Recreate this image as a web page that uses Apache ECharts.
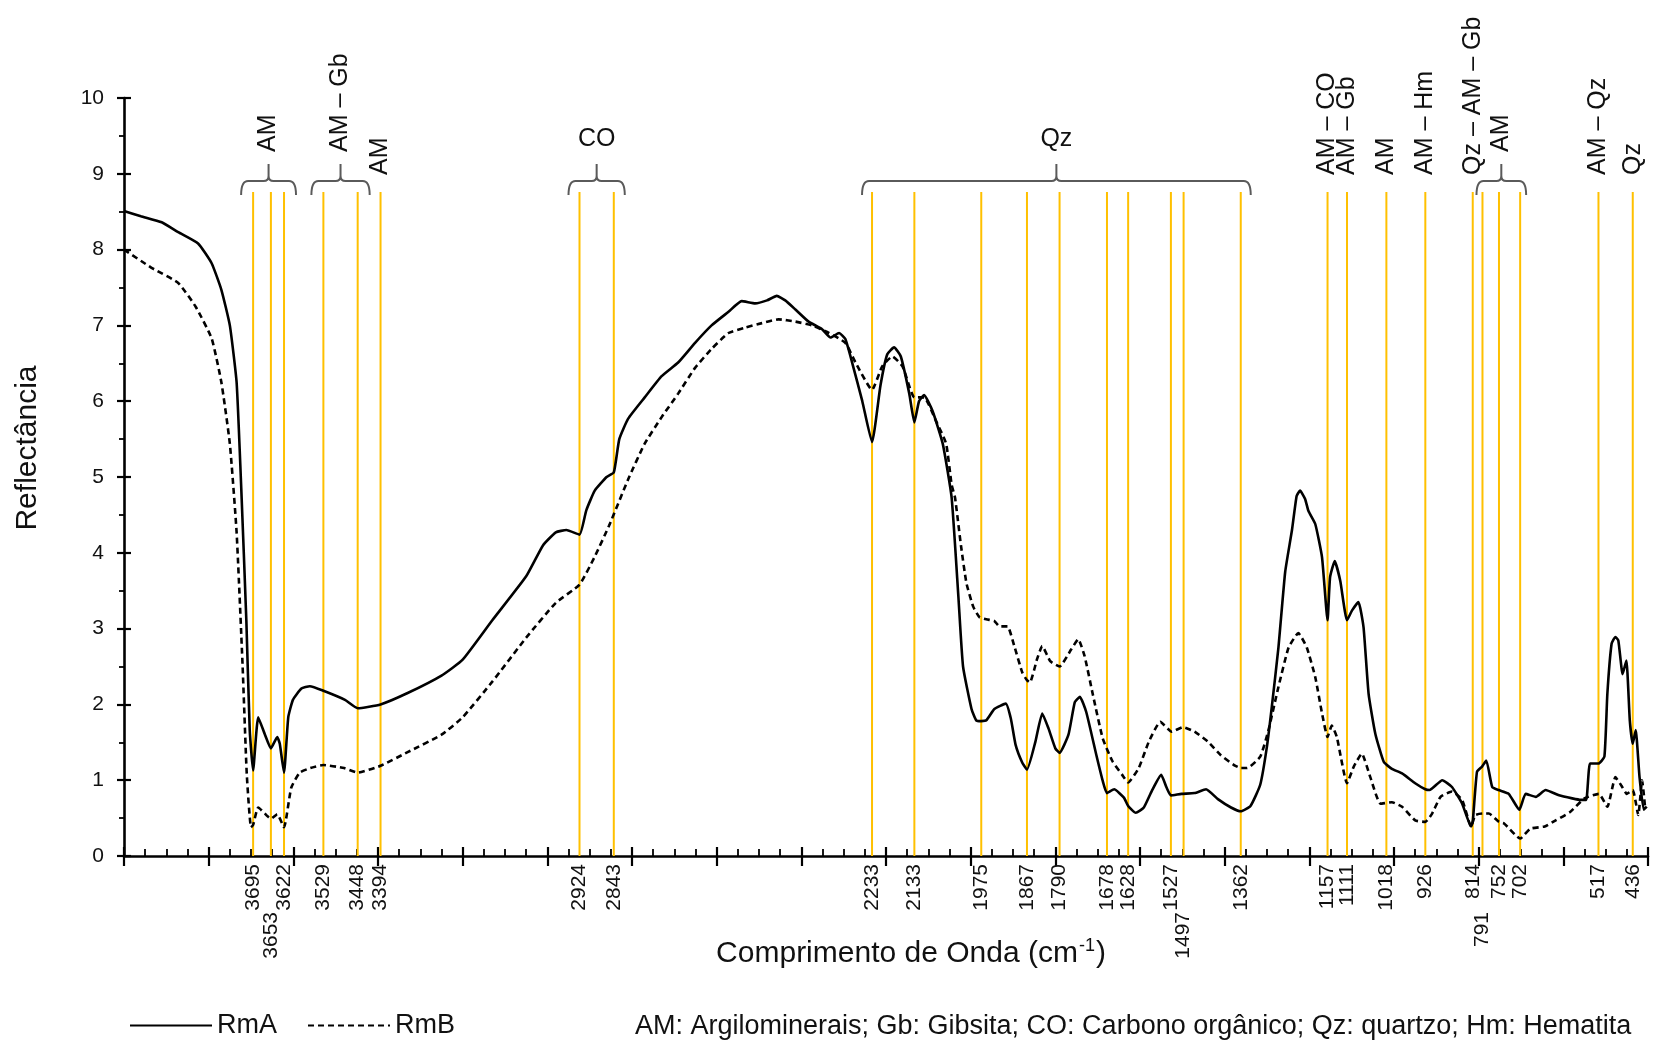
<!DOCTYPE html>
<html>
<head>
<meta charset="utf-8">
<script src="https://cdn.jsdelivr.net/npm/echarts@6/dist/echarts.min.js"></script>
<style>
  html, body { margin: 0; padding: 0; background: #ffffff; }
  #chart { width: 1656px; height: 1042px; }
</style>
</head>
<body>
<div id="chart"></div>
<script>
// FTIR reflectance spectra of samples RmA and RmB (wavenumber in cm-1)
const rmaWavenumber = [4000,3960,3911,3872,3825,3793,3770,3750,3734,3723,3711,3703,3695,3683,3667,3653,3638,3632,3622,3612,3601,3581,3561,3529,3478,3448,3394,3330,3250,3200,3130,3050,3010,2980,2955,2924,2908,2888,2860,2843,2830,2809,2770,2730,2691,2651,2612,2572,2541,2509,2481,2458,2438,2414,2383,2351,2331,2311,2296,2280,2256,2233,2213,2197,2181,2165,2145,2133,2122,2110,2090,2066,2045,2029,2018,1998,1987,1975,1963,1944,1917,1905,1894,1878,1867,1847,1831,1816,1800,1790,1769,1754,1742,1727,1703,1688,1678,1661,1638,1628,1610,1591,1572,1550,1537,1527,1502,1471,1444,1416,1385,1362,1339,1316,1300,1289,1273,1257,1241,1230,1222,1210,1202,1186,1170,1157,1151,1140,1127,1111,1099,1084,1072,1060,1044,1024,1005,981,950,926,916,886,863,839,818,814,804,792,782,768,753,729,704,689,665,642,610,579,559,546,537,517,503,496,486,477,470,460,451,443,436,429,420,410,403];
const rmaReflectance = [8.51,8.44,8.36,8.23,8.08,7.82,7.47,7.00,6.25,4.85,3.11,1.66,1.13,1.83,1.60,1.42,1.57,1.48,1.10,1.83,2.06,2.21,2.24,2.18,2.06,1.95,2.00,2.15,2.38,2.59,3.11,3.69,4.10,4.27,4.30,4.24,4.56,4.82,5.00,5.06,5.50,5.77,6.05,6.33,6.51,6.77,7.00,7.18,7.32,7.29,7.33,7.39,7.33,7.21,7.05,6.95,6.84,6.90,6.82,6.51,6.00,5.46,6.21,6.62,6.71,6.59,6.10,5.72,6.00,6.08,5.87,5.44,4.73,3.42,2.50,1.94,1.79,1.78,1.79,1.94,2.01,1.81,1.47,1.23,1.14,1.51,1.88,1.68,1.42,1.36,1.60,2.03,2.10,1.90,1.33,0.99,0.83,0.88,0.77,0.66,0.57,0.64,0.86,1.07,0.90,0.80,0.82,0.83,0.88,0.75,0.64,0.59,0.66,0.94,1.45,1.95,2.75,3.75,4.30,4.75,4.82,4.71,4.55,4.38,3.94,3.11,3.68,3.89,3.63,3.11,3.24,3.35,3.02,2.14,1.61,1.24,1.15,1.09,0.96,0.88,0.87,1.00,0.91,0.69,0.39,0.45,1.11,1.18,1.26,0.91,0.87,0.82,0.61,0.82,0.78,0.87,0.80,0.76,0.74,0.74,1.22,1.22,1.31,2.14,2.80,2.89,2.84,2.40,2.58,1.79,1.48,1.66,1.04,0.61,0.65];

const rmbWavenumber = [4000,3935,3872,3830,3793,3770,3750,3734,3720,3710,3700,3695,3683,3660,3653,3638,3622,3605,3585,3560,3529,3480,3448,3394,3330,3250,3200,3130,3050,2980,2924,2888,2854,2809,2770,2730,2691,2651,2612,2572,2533,2493,2454,2414,2375,2335,2296,2272,2233,2209,2185,2161,2133,2110,2082,2058,2045,2037,2023,2010,1994,1979,1960,1944,1932,1913,1897,1878,1867,1860,1843,1831,1812,1790,1762,1746,1731,1711,1688,1665,1642,1628,1603,1579,1552,1525,1498,1471,1440,1409,1378,1362,1347,1316,1297,1273,1249,1226,1206,1186,1170,1157,1147,1135,1111,1095,1076,1056,1032,1005,981,950,926,910,890,863,839,818,808,791,776,752,740,702,678,644,618,584,550,516,496,477,463,450,436,423,414,407];
const rmbReflectance = [8.00,7.76,7.56,7.24,6.83,6.25,5.44,4.27,2.53,1.08,0.38,0.41,0.64,0.52,0.49,0.55,0.38,0.90,1.10,1.16,1.20,1.16,1.10,1.19,1.37,1.60,1.83,2.30,2.88,3.34,3.58,3.95,4.36,4.97,5.44,5.79,6.10,6.44,6.69,6.90,6.97,7.03,7.08,7.05,7.00,6.90,6.77,6.51,6.15,6.46,6.59,6.46,6.05,6.05,5.74,5.44,4.90,4.73,4.10,3.60,3.29,3.15,3.12,3.10,3.03,3.03,2.77,2.42,2.32,2.29,2.60,2.77,2.57,2.50,2.73,2.86,2.64,2.12,1.55,1.25,1.07,0.97,1.16,1.51,1.77,1.64,1.70,1.64,1.51,1.33,1.20,1.16,1.16,1.31,1.65,2.23,2.75,2.94,2.75,2.36,1.88,1.57,1.72,1.57,0.96,1.18,1.35,1.04,0.69,0.71,0.65,0.47,0.45,0.56,0.78,0.85,0.74,0.39,0.54,0.56,0.56,0.45,0.43,0.23,0.36,0.39,0.47,0.58,0.76,0.82,0.65,1.04,0.93,0.82,0.87,0.54,1.00,0.65];

// Assigned absorption bands (cm-1); some labels sit on a second row below the axis
const peakWavenumbers = [3695,3653,3622,3529,3448,3394,2924,2843,2233,2133,1975,1867,1790,1678,1628,1527,1497,1362,1157,1111,1018,926,814,791,752,702,517,436];
const secondRowPeaks = [3653,1497,791];

// Band groups marked with a brace, and their mineral assignment
const braceSpans = [[3695,3622],[3529,3448],[2924,2843],[2233,1362],[791,702]];
const braceLabels = ['AM','AM – Gb','CO','Qz','AM'];

// Single bands with their own assignment
const singleBands = [3394,1157,1111,1018,926,814,517,436];
const singleLabels = ['AM','AM – CO','AM – Gb','AM','AM – Hm','Qz – AM – Gb','AM – Qz','Qz'];

const legendNote = 'AM: Argilominerais; Gb: Gibsita; CO: Carbono orgânico; Qz: quartzo; Hm: Hematita';

// ---- styling ----
const FONT = '"Liberation Sans", Arial, Helvetica, sans-serif';
const INK = '#111111';
const GUIDE = '#FFC000';
const GUIDE_TOP = 8.76;            // top of the band guide lines, in reflectance units
const braceUpright = [false, false, true, true, false];
const bracePad = [12, 12, 11, 10, 6];

const zip = (xs, ys) => xs.map((x, i) => [x, ys[i]]);

const chart = echarts.init(document.getElementById('chart'), null, { renderer: 'canvas' });

const xBase = { type: 'value', min: 400, max: 4000, interval: 200, inverse: true, gridIndex: 0,
  position: 'bottom', offset: 0, splitLine: { show: false }, axisLabel: { show: false } };
const yBase = { type: 'value', min: 0, max: 10, interval: 1, gridIndex: 0,
  position: 'left', offset: 0, splitLine: { show: false } };

const option = {
  animation: false,
  backgroundColor: '#ffffff',
  textStyle: { fontFamily: FONT, color: INK },
  grid: { left: 124, right: 8, top: 98, bottom: 186, containLabel: false },
  xAxis: [
    Object.assign({}, xBase, {
      axisLine: { show: true, lineStyle: { color: '#000', width: 2.6 } },
      axisTick: { show: true, inside: true, length: 9, lineStyle: { color: '#000', width: 2.2 } },
      minorTick: { show: true, splitNumber: 4, length: 7, lineStyle: { color: '#000', width: 1.8 } }
    }),
    Object.assign({}, xBase, {
      axisLine: { show: false },
      axisTick: { show: true, inside: false, length: 10, lineStyle: { color: '#000', width: 2.2 } },
      minorTick: { show: false }
    })
  ],
  yAxis: [
    Object.assign({}, yBase, {
      axisLine: { show: true, lineStyle: { color: '#000', width: 2.6 } },
      axisTick: { show: true, inside: false, length: 7, lineStyle: { color: '#000', width: 2.2 } },
      minorTick: { show: true, splitNumber: 2, length: 5, lineStyle: { color: '#000', width: 1.8 } },
      axisLabel: { show: true, fontSize: 21, color: INK, margin: 20, fontFamily: FONT }
    }),
    Object.assign({}, yBase, {
      axisLine: { show: false },
      axisTick: { show: true, inside: true, length: 7, lineStyle: { color: '#000', width: 2.2 } },
      minorTick: { show: false },
      axisLabel: { show: false }
    })
  ],
  legend: {
    data: ['RmA', 'RmB'], left: 129, top: 1012, padding: 0,
    itemWidth: 82, itemHeight: 14, itemGap: 30, selectedMode: false,
    // line-only keys: the marker drawn on top of the line is made invisible
    itemStyle: { opacity: 0, borderWidth: 0 },
    textStyle: { fontSize: 27, color: INK, fontFamily: FONT }
  },
  graphic: [
    { type: 'text', x: 28, y: 448, rotation: Math.PI / 2, silent: true,
      style: { text: 'Reflectância', fontSize: 30, fontFamily: FONT, fill: INK, align: 'center', verticalAlign: 'middle' } },
    { type: 'text', x: 911, y: 954, silent: true,
      style: { text: '{t|Comprimento de Onda (cm}{s|-1}{t|)}', align: 'center', verticalAlign: 'middle',
        rich: {
          t: { fontSize: 30, fontFamily: FONT, fill: INK, lineHeight: 34 },
          s: { fontSize: 18, fontFamily: FONT, fill: INK, lineHeight: 34, verticalAlign: 'top', padding: [0, 1, 12, 1] }
        } } },
    { type: 'text', x: 635, y: 1027, silent: true,
      style: { text: legendNote, fontSize: 27, fontFamily: FONT, fill: INK, align: 'left', verticalAlign: 'middle' } }
  ],
  series: [
    // vertical guide lines at the assigned bands
    {
      type: 'custom', name: 'guides', coordinateSystem: 'cartesian2d', silent: true, z: 1,
      data: peakWavenumbers.map(w => [w, GUIDE_TOP]),
      renderItem(params, api) {
        const w = api.value(0);
        const a = api.coord([w, 0]);
        const b = api.coord([w, api.value(1)]);
        return { type: 'line', shape: { x1: a[0], y1: a[1], x2: b[0], y2: b[1] },
          style: { stroke: GUIDE, lineWidth: 2 } };
      }
    },
    {
      name: 'RmA', type: 'line', xAxisIndex: 0, yAxisIndex: 0, z: 3,
      data: zip(rmaWavenumber, rmaReflectance), showSymbol: false, symbol: 'none', smooth: 0.15,
      lineStyle: { color: '#000', width: 2.6, type: 'solid' }, itemStyle: { color: '#000' }
    },
    {
      name: 'RmB', type: 'line', xAxisIndex: 0, yAxisIndex: 0, z: 3,
      data: zip(rmbWavenumber, rmbReflectance), showSymbol: false, symbol: 'none', smooth: 0.15,
      lineStyle: { color: '#000', width: 2.6, type: [6, 4] }, itemStyle: { color: '#000' }
    },
    // band numbers under the axis
    {
      type: 'custom', name: 'bandNumbers', coordinateSystem: 'cartesian2d', silent: true, z: 4,
      data: peakWavenumbers.map(w => [w, 0]),
      renderItem(params, api) {
        const w = api.value(0);
        const p = api.coord([w, 0]);
        const drop = secondRowPeaks.indexOf(w) >= 0 ? 56 : 8;
        return { type: 'text', x: p[0], y: p[1] + drop, rotation: Math.PI / 2,
          style: { text: String(w), fontSize: 21, fontFamily: FONT, fill: INK, align: 'right', verticalAlign: 'middle' } };
      }
    },
    // braces over band groups
    {
      type: 'custom', name: 'braces', coordinateSystem: 'cartesian2d', silent: true, z: 4,
      data: braceSpans.map((s, i) => [s[0], s[1], i]),
      renderItem(params, api) {
        const i = api.value(2);
        const x0 = api.coord([api.value(0), 10])[0] - bracePad[i];
        const x1 = api.coord([api.value(1), 10])[0] + bracePad[i];
        const xc = (x0 + x1) / 2;
        const yLine = 181, yEnd = 195, yTip = 164;
        const d = `M ${x0} ${yEnd} Q ${x0} ${yLine} ${x0 + 7} ${yLine} L ${xc - 5} ${yLine} Q ${xc} ${yLine} ${xc} ${yLine - 5} L ${xc} ${yTip}` +
                  ` M ${xc} ${yLine - 5} Q ${xc} ${yLine} ${xc + 5} ${yLine} L ${x1 - 7} ${yLine} Q ${x1} ${yLine} ${x1} ${yEnd}`;
        const label = braceUpright[i]
          ? { type: 'text', x: xc, y: 152,
              style: { text: braceLabels[i], fontSize: 25, fontFamily: FONT, fill: INK, align: 'center', verticalAlign: 'bottom' } }
          : { type: 'text', x: xc, y: 152, rotation: Math.PI / 2,
              style: { text: braceLabels[i], fontSize: 25, fontFamily: FONT, fill: INK, align: 'left', verticalAlign: 'middle' } };
        return { type: 'group', children: [
          { type: 'path', shape: { pathData: d }, style: { stroke: '#5a5a5a', lineWidth: 2, fill: null } },
          label
        ] };
      }
    },
    // assignments of single bands
    {
      type: 'custom', name: 'bandAssignments', coordinateSystem: 'cartesian2d', silent: true, z: 4,
      data: singleBands.map((w, i) => [w, i]),
      renderItem(params, api) {
        const p = api.coord([api.value(0), 10]);
        return { type: 'text', x: p[0], y: 175, rotation: Math.PI / 2,
          style: { text: singleLabels[api.value(1)], fontSize: 25, fontFamily: FONT, fill: INK, align: 'left', verticalAlign: 'middle' } };
      }
    }
  ]
};

chart.setOption(option);
</script>
</body>
</html>
